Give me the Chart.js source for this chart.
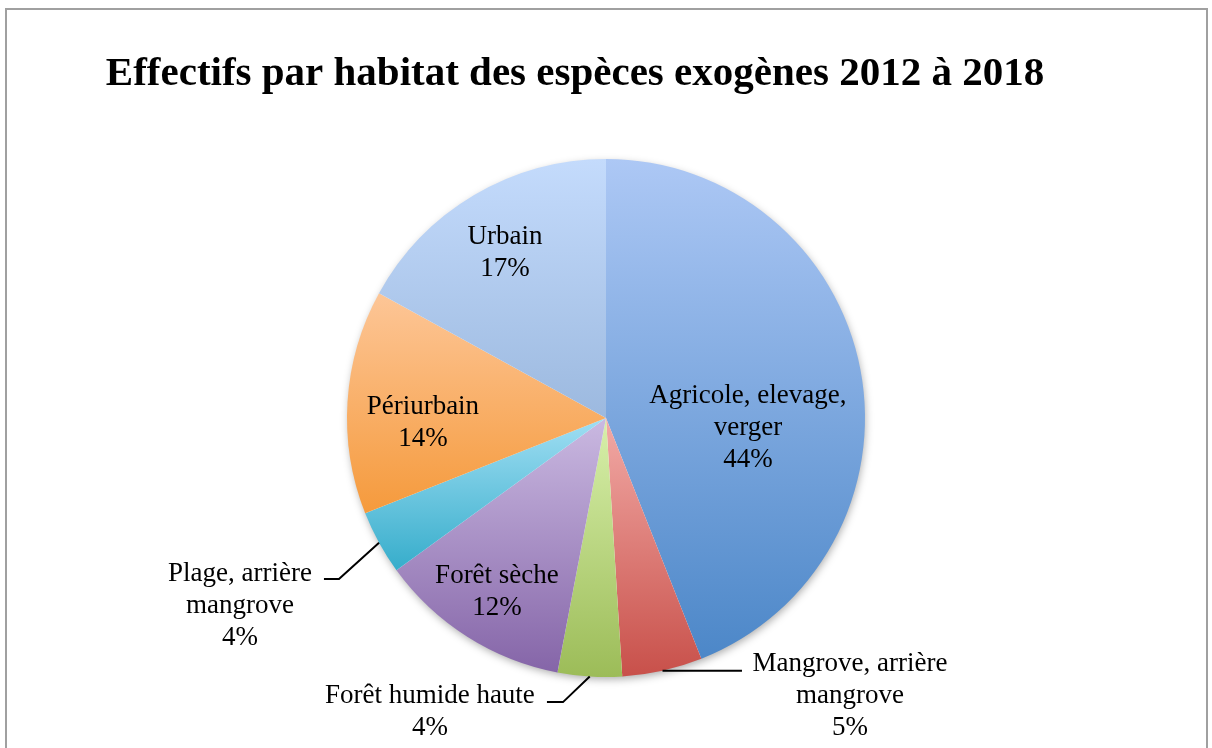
<!DOCTYPE html>
<html><head><meta charset="utf-8">
<script src="https://cdn.jsdelivr.net/npm/chart.js@4/dist/chart.umd.min.js"></script>
<style>
html,body{margin:0;padding:0;background:#fff;width:1212px;height:748px;overflow:hidden}
#frame{position:absolute;left:5px;top:8px;width:1199px;height:800px;border:2px solid #a0a0a0}
#wrap{position:absolute;left:0;top:0;width:1212px;height:748px}
</style></head><body>
<div id="frame"></div>
<div id="wrap"><canvas id="c" width="1212" height="748"></canvas></div>
<script>
// ---- data ----
const chartTitle = 'Effectifs par habitat des espèces exogènes 2012 à 2018';
const categories = ['Agricole, elevage, verger', 'Mangrove, arrière mangrove', 'Forêt humide haute', 'Forêt sèche', 'Plage, arrière mangrove', 'Périurbain', 'Urbain'];
const values = [44, 5, 4, 12, 4, 14, 17];
const labelLines = [['Agricole, elevage,', 'verger'], ['Mangrove, arrière', 'mangrove'], ['Forêt humide haute'], ['Forêt sèche'], ['Plage, arrière', 'mangrove'], ['Périurbain'], ['Urbain']];

// ---- styles ----
const gradTop    = ['#adc8f5', '#f2aaa6', '#d8f0ab', '#cab9e1', '#a0def3', '#fdc697', '#c4dbfc'];
const gradBottom = ['#4c87c8', '#c8504a', '#9cbc58', '#8565a8', '#36adcb', '#f59a3c', '#9cb9df'];
const FONT = '"Liberation Serif", "DejaVu Serif", serif';
const LABEL_SIZE = 27;
const LINE_H = 32;
// label placement in units of the pie radius, relative to the pie centre
const labelPlace = [
  {x: 0.548, y: 0.039},
  {x: 0.942, y: 1.074, leader: {elbow: null, endX: 0.525}},
  {x: -0.680, y: 1.135, leader: {elbow: [-0.166, 1.097], endX: -0.228}},
  {x: -0.421, y: 0.672},
  {x: -1.413, y: 0.726, leader: {elbow: [-1.031, 0.622], endX: -1.089}},
  {x: -0.707, y: 0.019},
  {x: -0.390, y: -0.637}
];

const total = values.reduce((a, b) => a + b, 0);

const gradientPlugin = {
  id: 'sliceGradient',
  beforeDatasetsDraw(chart) {
    const ctx = chart.ctx;
    const meta = chart.getDatasetMeta(0);
    if (!meta.data.length) return;
    const a0 = meta.data[0];
    // soft shadow under the pie
    ctx.save();
    ctx.shadowColor = 'rgba(0,0,0,0.35)';
    ctx.shadowBlur = 9;
    ctx.shadowOffsetX = 1;
    ctx.shadowOffsetY = 3;
    ctx.fillStyle = '#ffffff';
    ctx.beginPath();
    ctx.arc(a0.x, a0.y, a0.outerRadius - 1, 0, Math.PI * 2);
    ctx.fill();
    ctx.restore();
    meta.data.forEach((el, i) => {
      let minY = el.y, maxY = el.y;
      const n = 200;
      for (let k = 0; k <= n; k++) {
        const a = el.startAngle + (el.endAngle - el.startAngle) * k / n;
        const yy = el.y + el.outerRadius * Math.sin(a);
        if (yy < minY) minY = yy;
        if (yy > maxY) maxY = yy;
      }
      const g = ctx.createLinearGradient(0, minY, 0, maxY);
      g.addColorStop(0, gradTop[i]);
      g.addColorStop(1, gradBottom[i]);
      el.options.backgroundColor = g;
      el.options.borderWidth = 0;
    });
  }
};

const labelPlugin = {
  id: 'sliceLabels',
  afterDatasetsDraw(chart) {
    const ctx = chart.ctx;
    const meta = chart.getDatasetMeta(0);
    ctx.save();
    ctx.font = LABEL_SIZE + 'px ' + FONT;
    ctx.fillStyle = '#000';
    ctx.textAlign = 'center';
    ctx.textBaseline = 'middle';
    meta.data.forEach((el, i) => {
      const r = el.outerRadius, cx = el.x, cy = el.y;
      const p = labelPlace[i];
      const lines = labelLines[i].concat([Math.round(values[i] / total * 100) + '%']);
      const tx = cx + p.x * r, ty = cy + p.y * r;
      const y0 = ty - (lines.length - 1) * LINE_H / 2;
      lines.forEach((t, k) => ctx.fillText(t, tx, y0 + k * LINE_H));
      if (p.leader) {
        const mid = (el.startAngle + el.endAngle) / 2;
        const sx = cx + r * Math.cos(mid), sy = cy + r * Math.sin(mid);
        ctx.strokeStyle = '#000';
        ctx.lineWidth = 2;
        ctx.beginPath();
        ctx.moveTo(sx, sy);
        let ey = sy;
        if (p.leader.elbow) {
          const ex = cx + p.leader.elbow[0] * r;
          ey = cy + p.leader.elbow[1] * r;
          ctx.lineTo(ex, ey);
        }
        ctx.lineTo(cx + p.leader.endX * r, ey);
        ctx.stroke();
      }
    });
    ctx.restore();
  }
};

const titlePlugin = {
  id: 'customTitle',
  afterDraw(chart) {
    const ctx = chart.ctx;
    ctx.save();
    ctx.font = 'bold 41px ' + FONT;
    ctx.fillStyle = '#000';
    ctx.textAlign = 'center';
    ctx.textBaseline = 'alphabetic';
    ctx.fillText(chartTitle, 575, 85);
    ctx.restore();
  }
};

new Chart(document.getElementById('c'), {
  type: 'pie',
  data: {
    labels: categories,
    datasets: [{
      data: values,
      backgroundColor: gradBottom,
      borderWidth: 0
    }]
  },
  options: {
    responsive: false,
    animation: false,
    events: [],
    layout: {padding: {top: 159, bottom: 71, left: 0, right: 0}},
    plugins: {legend: {display: false}, title: {display: false}, tooltip: {enabled: false}}
  },
  plugins: [gradientPlugin, labelPlugin, titlePlugin]
});
</script>
</body></html>
